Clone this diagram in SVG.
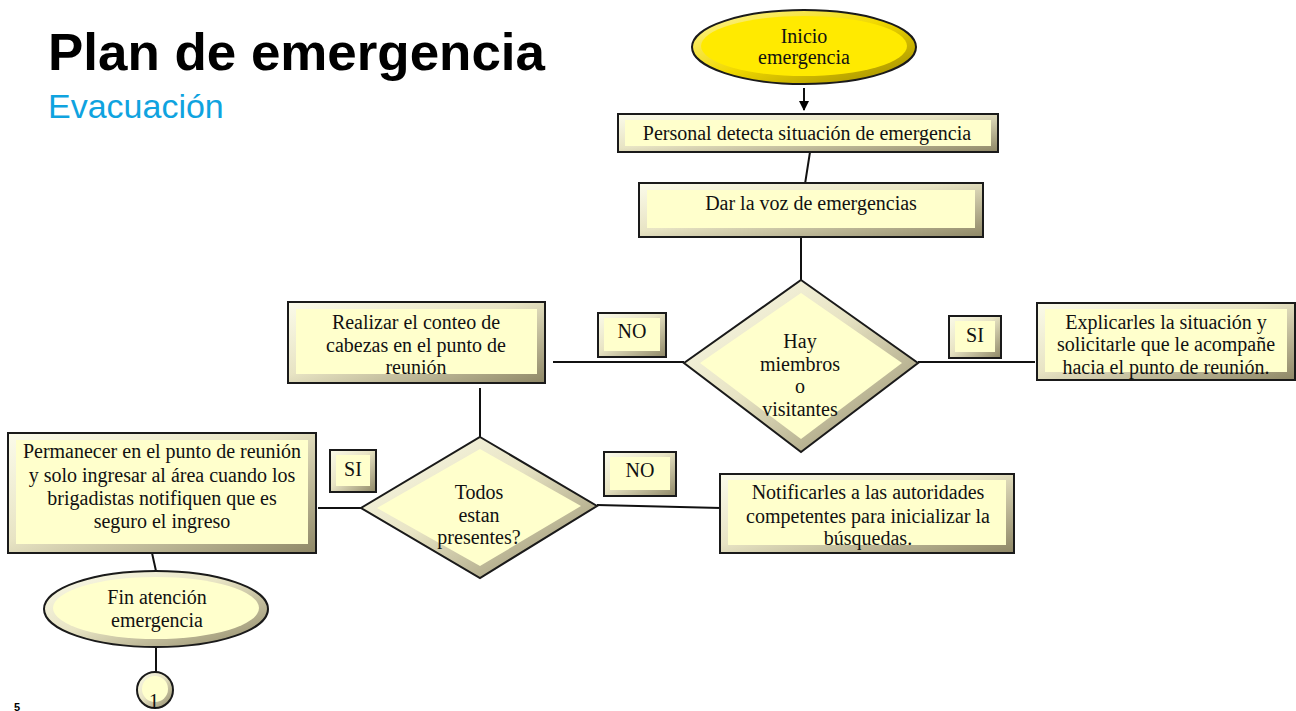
<svg xmlns="http://www.w3.org/2000/svg" width="1296" height="711" viewBox="0 0 1296 711">
<defs>
<linearGradient id="bev" x1="0" y1="0" x2="1" y2="1">
<stop offset="0" stop-color="#FBFBEA"/><stop offset="0.45" stop-color="#E8E4C4"/><stop offset="1" stop-color="#8E8766"/>
</linearGradient>
<linearGradient id="bevY" x1="0" y1="0" x2="1" y2="1">
<stop offset="0" stop-color="#FFF7A0"/><stop offset="0.5" stop-color="#F0D800"/><stop offset="1" stop-color="#9A8600"/>
</linearGradient>
<marker id="arr" markerWidth="10" markerHeight="10" refX="9" refY="5" orient="auto" markerUnits="userSpaceOnUse">
<path d="M0,0 L10,5 L0,10 Z" fill="#000"/>
</marker>
<style>
.o{fill:url(#bev);stroke:#1a1a1a;stroke-width:2}
.oy{fill:url(#bevY);stroke:#1a1a1a;stroke-width:2}
.i{fill:#FFFFCC;stroke:none}
.iy{fill:#FFEA00;stroke:none}
.t{font-family:"Liberation Serif","Times New Roman",serif;font-size:20px;fill:#111;text-anchor:middle}
.c{stroke:#111;stroke-width:2;fill:none}
</style>
</defs>

<g id="title">
<text x="48" y="70" font-family="Liberation Sans,Arial,sans-serif" font-weight="bold" font-size="52" fill="#000" textLength="497" lengthAdjust="spacingAndGlyphs">Plan de emergencia</text>
<text x="48" y="118" font-family="Liberation Sans,Arial,sans-serif" font-size="34" fill="#0FA3DF">Evacuación</text>
<text x="14" y="711" font-family="Liberation Sans,Arial,sans-serif" font-weight="bold" font-size="11" fill="#000">5</text>
</g>

<g id="connectors">
<line class="c" x1="804" y1="88" x2="804" y2="110" marker-end="url(#arr)"/>
<line class="c" x1="810" y1="152" x2="805" y2="184"/>
<line class="c" x1="801" y1="237" x2="801" y2="282"/>
<line class="c" x1="684" y1="362" x2="553" y2="362"/>
<line class="c" x1="918" y1="362" x2="1035" y2="362"/>
<line class="c" x1="480" y1="388" x2="480" y2="437"/>
<line class="c" x1="361" y1="508" x2="318" y2="508"/>
<line class="c" x1="597" y1="505" x2="721" y2="508"/>
<line class="c" x1="152" y1="553" x2="156" y2="571"/>
<line class="c" x1="156" y1="648" x2="156" y2="673"/>
</g>

<g id="inicio">
<ellipse class="oy" cx="804" cy="47" rx="112" ry="37"/>
<ellipse class="iy" cx="804" cy="46" rx="103" ry="30"/>
<text class="t" x="804" y="43" font-size="18">Inicio</text>
<text class="t" x="804" y="64" font-size="18">emergencia</text>
</g>

<g id="personal">
<rect class="o" x="618" y="114" width="380" height="38"/>
<rect class="i" x="625" y="120" width="366" height="26"/>
<text class="t" x="807" y="140">Personal detecta situación de emergencia</text>
</g>

<g id="dar">
<rect class="o" x="639" y="183" width="344" height="54"/>
<rect class="i" x="647" y="190" width="328" height="38"/>
<text class="t" x="811" y="210">Dar la voz de emergencias</text>
</g>

<g id="hay">
<polygon class="o" points="801,280 918,363 801,452 684,363"/>
<polygon class="i" points="801,293 902,363 801,439 700,363"/>
<text class="t" x="800" y="348">Hay</text>
<text class="t" x="800" y="371">miembros</text>
<text class="t" x="800" y="393">o</text>
<text class="t" x="800" y="416">visitantes</text>
</g>

<g id="no1">
<rect class="o" x="598" y="313" width="68" height="44"/>
<rect class="i" x="604" y="318" width="56" height="33"/>
<text class="t" x="632" y="338">NO</text>
</g>

<g id="si1">
<rect class="o" x="949" y="316" width="52" height="42"/>
<rect class="i" x="955" y="321" width="40" height="31"/>
<text class="t" x="975" y="342">SI</text>
</g>

<g id="explicar">
<rect class="o" x="1037" y="303" width="258" height="77"/>
<rect class="i" x="1045" y="309" width="242" height="63"/>
<text class="t" x="1166" y="329">Explicarles la situación y</text>
<text class="t" x="1166" y="351">solicitarle que le acompañe</text>
<text class="t" x="1166" y="374">hacia el punto de reunión.</text>
</g>

<g id="realizar">
<rect class="o" x="288" y="302" width="257" height="81"/>
<rect class="i" x="296" y="309" width="241" height="65"/>
<text class="t" x="416" y="329">Realizar el conteo de</text>
<text class="t" x="416" y="352">cabezas en el punto de</text>
<text class="t" x="416" y="374">reunión</text>
</g>

<g id="todos">
<polygon class="o" points="480,437 597,506 480,578 361,508"/>
<polygon class="i" points="480,449 581,506 480,566 377,508"/>
<text class="t" x="479" y="499">Todos</text>
<text class="t" x="479" y="522">estan</text>
<text class="t" x="479" y="544">presentes?</text>
</g>

<g id="si2">
<rect class="o" x="330" y="450" width="46" height="42"/>
<rect class="i" x="336" y="455" width="34" height="31"/>
<text class="t" x="353" y="476">SI</text>
</g>

<g id="no2">
<rect class="o" x="604" y="452" width="72" height="44"/>
<rect class="i" x="610" y="457" width="60" height="33"/>
<text class="t" x="640" y="477">NO</text>
</g>

<g id="permanecer">
<rect class="o" x="8" y="433" width="308" height="120"/>
<rect class="i" x="16" y="440" width="292" height="104"/>
<text class="t" x="162" y="458">Permanecer en el punto de reunión</text>
<text class="t" x="162" y="482">y solo ingresar al área cuando los</text>
<text class="t" x="162" y="505">brigadistas notifiquen que es</text>
<text class="t" x="162" y="528">seguro el ingreso</text>
</g>

<g id="notificar">
<rect class="o" x="720" y="474" width="294" height="79"/>
<rect class="i" x="728" y="480" width="278" height="65"/>
<text class="t" x="868" y="499">Notificarles a las autoridades</text>
<text class="t" x="868" y="523">competentes para inicializar la</text>
<text class="t" x="868" y="545">búsquedas.</text>
</g>

<g id="fin">
<ellipse class="o" cx="156" cy="609" rx="112" ry="38"/>
<ellipse class="i" cx="156" cy="608" rx="103" ry="31"/>
<text class="t" x="157" y="604">Fin atención</text>
<text class="t" x="157" y="627">emergencia</text>
</g>

<g id="conector1">
<circle class="o" cx="155" cy="690" r="18"/>
<circle class="i" cx="155" cy="689" r="13"/>
<text class="t" x="154" y="708">1</text>
</g>
</svg>
